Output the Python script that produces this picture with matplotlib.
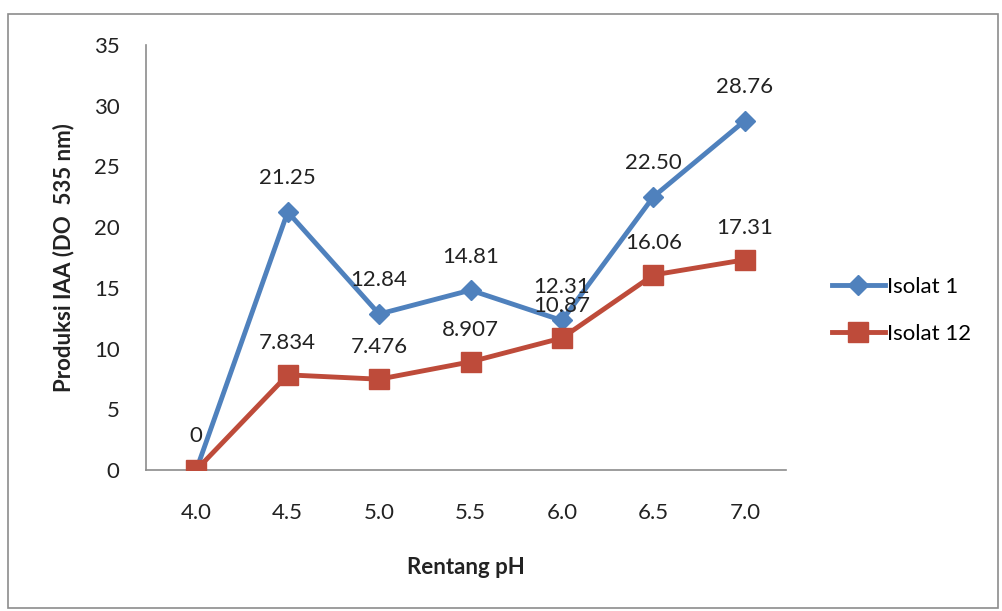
import matplotlib
matplotlib.use("Agg")
import matplotlib.pyplot as plt
from matplotlib.patches import Rectangle

ph_levels = ["4.0", "4.5", "5.0", "5.5", "6.0", "6.5", "7.0"]
isolat_1 = [0, 21.25, 12.84, 14.81, 12.31, 22.50, 28.76]
isolat_12 = [0, 7.834, 7.476, 8.907, 10.87, 16.06, 17.31]
labels_1 = ["0", "21.25", "12.84", "14.81", "12.31", "22.50", "28.76"]
labels_12 = ["", "7.834", "7.476", "8.907", "10.87", "16.06", "17.31"]
y_ticks = [0, 5, 10, 15, 20, 25, 30, 35]

plt.rcParams["font.family"] = ["Lato", "DejaVu Sans"]

fig = plt.figure(figsize=(10.02, 6.11), dpi=100)
fig.patches.append(Rectangle((0.008, 0.005), 0.988, 0.972, transform=fig.transFigure,
                             fill=False, edgecolor="#8c8c8c", linewidth=1.2))

ax = fig.add_axes([0.1457, 0.2308, 0.6387, 0.6956])
x = list(range(len(ph_levels)))

blue = "#4F81BD"
red = "#BE4B3A"
fs = 16

ax.plot(x, isolat_1, color=blue, linewidth=3.5, marker="D", markersize=10,
        label="Isolat 1", zorder=3)
ax.plot(x, isolat_12, color=red, linewidth=3.5, marker="s", markersize=14,
        label="Isolat 12", zorder=4)

for xi, v, t in zip(x, isolat_1, labels_1):
    if t:
        ax.annotate(t, (xi, v), xytext=(0, 17), textcoords="offset points",
                    ha="center", va="bottom", fontsize=fs, color="#222222")
for xi, v, t in zip(x, isolat_12, labels_12):
    if t:
        ax.annotate(t, (xi, v), xytext=(0, 16), textcoords="offset points",
                    ha="center", va="bottom", fontsize=fs, color="#222222")

ax.set_xlim(-0.55, 6.45)
ax.set_ylim(0, 35)
ax.set_xticks(x)
ax.set_xticklabels(ph_levels)
ax.set_yticks(y_ticks)
ax.tick_params(axis="both", length=0, labelsize=fs, colors="#222222")
ax.tick_params(axis="x", pad=24)
ax.tick_params(axis="y", pad=19)

for side in ["top", "right"]:
    ax.spines[side].set_visible(False)
for side in ["left", "bottom"]:
    ax.spines[side].set_color("#8c8c8c")
    ax.spines[side].set_linewidth(1.2)

ax.set_xlabel("Rentang pH", fontsize=fs, fontweight="bold", labelpad=24, color="#222222")
ax.set_ylabel("Produksi IAA (DO  535 nm)", fontsize=fs, fontweight="bold", labelpad=14,
              color="#222222")

leg = ax.legend(loc="center left", bbox_to_anchor=(1.04, 0.375), frameon=False,
                fontsize=fs, handlelength=2.4, handletextpad=0.1, labelspacing=1.2)

fig.savefig("out.png", dpi=100)
